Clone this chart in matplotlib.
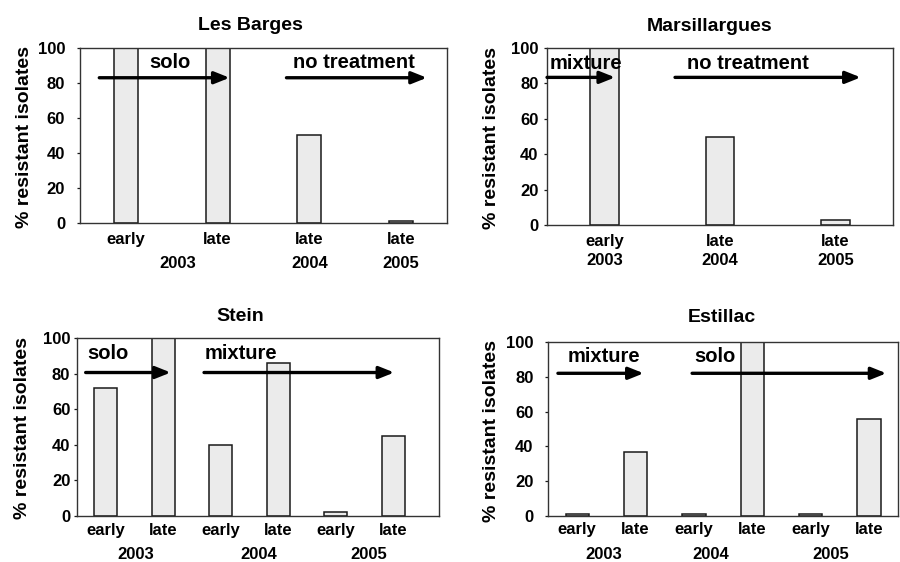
import matplotlib
matplotlib.use("Agg")
import matplotlib.pyplot as plt

plt.rcParams["font.family"] = ["Liberation Sans", "DejaVu Sans"]
plt.rcParams["font.weight"] = "bold"

# =========================
# Data
# =========================
SITES = ["Les Barges", "Marsillargues", "Stein", "Estillac"]

barges_cats = ["early", "late", "late", "late"]
barges_years = ["2003", "2004", "2005"]
barges_vals = [100, 100, 50, 1]

marsil_cats = ["early\n2003", "late\n2004", "late\n2005"]
marsil_vals = [100, 50, 3]

stein_cats = ["early", "late", "early", "late", "early", "late"]
stein_years = ["2003", "2004", "2005"]
stein_vals = [72, 100, 40, 86, 2, 45]

estil_cats = ["early", "late", "early", "late", "early", "late"]
estil_years = ["2003", "2004", "2005"]
estil_vals = [1, 37, 1, 100, 1, 56]

# treatment periods: (label, arrow start, arrow end) in category units
barges_treat = [("solo", -0.29, 1.13), ("no treatment", 1.75, 3.28)]
marsil_treat = [("mixture", -0.5, 0.09), ("no treatment", 0.61, 2.22)]
stein_treat = [("solo", -0.35, 1.13), ("mixture", 1.71, 5.02)]
estil_treat = [("mixture", -0.33, 1.14), ("solo", 1.97, 5.3)]

BAR_FC = "#ebebeb"
EDGE = "#1a1a1a"

fig = plt.figure(figsize=(9, 5.62), dpi=100)

# axes placed to match the original layout
panels = [
    dict(rect=[0.0889, 0.6032, 0.4078, 0.3114], vals=barges_vals, cats=barges_cats,
         years=barges_years, year_x=[0.57, 2.0, 3.0], xlim=(-0.5, 3.5), width=0.26,
         treat=barges_treat, text_x=[0.48, 2.49], arrow_y=83, ylab=(25, 137),
         title_xy=(0.463, 1.126), tick_pad=8.6, cat_off=12.2, year_off=29.5),
    dict(rect=[0.6078, 0.5996, 0.3844, 0.315], vals=marsil_vals, cats=marsil_cats,
         years=None, year_x=None, xlim=(-0.5, 2.5), width=0.25,
         treat=marsil_treat, text_x=[-0.16, 1.24], arrow_y=83.4, ylab=(491, 138),
         title_xy=(0.471, 1.124), tick_pad=3.9, cat_off=18.7, year_off=None),
    dict(rect=[0.0856, 0.0819, 0.4022, 0.3167], vals=stein_vals, cats=stein_cats,
         years=stein_years, year_x=[0.52, 2.67, 4.57], xlim=(-0.5, 5.8), width=0.4,
         treat=stein_treat, text_x=[0.03, 2.35], arrow_y=80.6, ylab=(23, 428),
         title_xy=(0.45, 1.12), tick_pad=2.6, cat_off=10.8, year_off=27.4),
    dict(rect=[0.6089, 0.0819, 0.3889, 0.3096], vals=estil_vals, cats=estil_cats,
         years=estil_years, year_x=[0.46, 2.29, 4.35], xlim=(-0.5, 5.5), width=0.4,
         treat=estil_treat, text_x=[0.46, 2.36], arrow_y=82, ylab=(491, 431),
         title_xy=(0.497, 1.138), tick_pad=8.2, cat_off=9.4, year_off=27.8),
]

for site, p in zip(SITES, panels):
    ax = fig.add_axes(p["rect"])
    x = list(range(len(p["vals"])))
    ax.bar(x, p["vals"], width=p["width"], color=BAR_FC, edgecolor=EDGE, linewidth=1.1, zorder=2)
    ax.set_xlim(*p["xlim"])
    ax.set_ylim(0, 100)
    ax.set_yticks([0, 20, 40, 60, 80, 100])
    ax.set_xticks([])
    ax.tick_params(axis="y", length=2.2, width=0.9, pad=p["tick_pad"], labelsize=12, color=EDGE)
    for lab in ax.get_yticklabels():
        lab.set_fontweight("bold")
    for sp in ax.spines.values():
        sp.set_linewidth(1.0)
        sp.set_color("#333333")

    # category labels under the bars
    for xi, c in zip(x, p["cats"]):
        ax.annotate(c, xy=(xi, 0), xycoords=("data", "axes fraction"),
                    xytext=(0, -p["cat_off"]), textcoords="offset points",
                    ha="center", va="center", fontsize=12, fontweight="bold",
                    linespacing=1.3, annotation_clip=False)
    if p["years"]:
        for yx, yr in zip(p["year_x"], p["years"]):
            ax.annotate(yr, xy=(yx, 0), xycoords=("data", "axes fraction"),
                        xytext=(0, -p["year_off"]), textcoords="offset points",
                        ha="center", va="center", fontsize=12, fontweight="bold",
                        annotation_clip=False)

    # treatment arrows + labels
    for (lab, x0, x1), tx in zip(p["treat"], p["text_x"]):
        ax.annotate("", xy=(x1, p["arrow_y"]), xytext=(x0, p["arrow_y"]),
                    arrowprops=dict(arrowstyle="-|>,head_length=0.9,head_width=0.36",
                                    lw=2.4, color="black", shrinkA=0, shrinkB=0,
                                    mutation_scale=10),
                    zorder=4)
        ax.text(tx, 91.5, lab, ha="center", va="center", fontsize=14.5,
                fontweight="bold", zorder=5)

    ax.text(p["title_xy"][0], p["title_xy"][1], site, transform=ax.transAxes,
            ha="center", va="center", fontsize=14, fontweight="bold")
    fig.text(p["ylab"][0] / 900, 1 - p["ylab"][1] / 562, "% resistant isolates",
             rotation=90, ha="center", va="center", fontsize=14, fontweight="bold")

fig.savefig("out.png", dpi=100)
